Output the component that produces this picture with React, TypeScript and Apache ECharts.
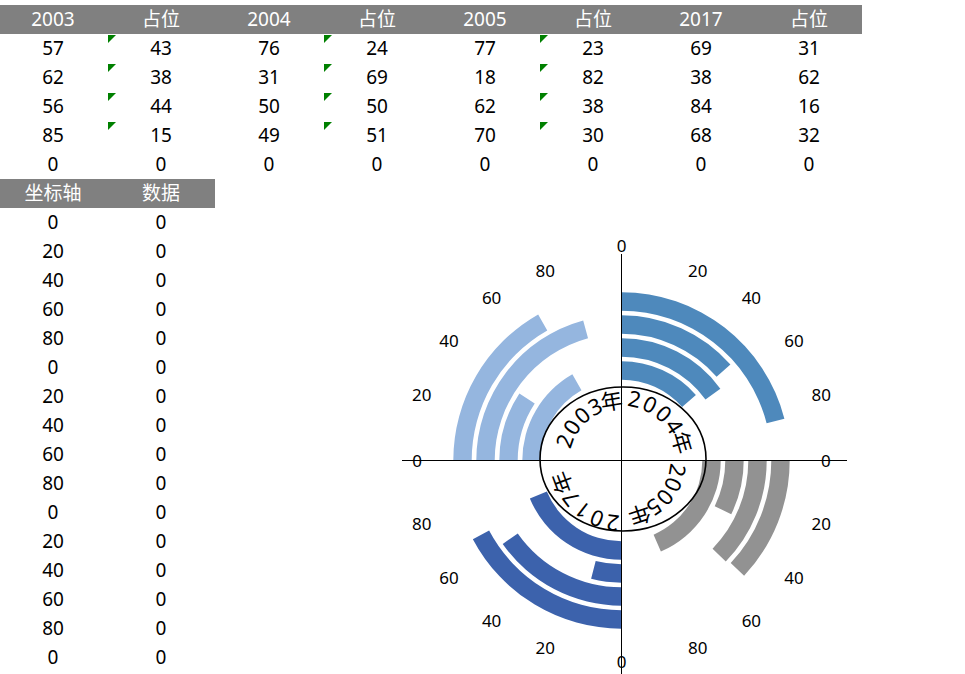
import React, { useEffect, useRef } from 'react';
import * as echarts from 'echarts';

// ---- table data ----
const tableHeaders = ['2003', '占位', '2004', '占位', '2005', '占位', '2017', '占位'];
const col2003 = [57, 62, 56, 85, 0];
const pad2003 = [43, 38, 44, 15, 0];
const col2004 = [76, 31, 50, 49, 0];
const pad2004 = [24, 69, 50, 51, 0];
const col2005 = [77, 18, 62, 70, 0];
const pad2005 = [23, 82, 38, 30, 0];
const col2017 = [69, 38, 84, 68, 0];
const pad2017 = [31, 62, 16, 32, 0];
const tableCols = [col2003, pad2003, col2004, pad2004, col2005, pad2005, col2017, pad2017];
const flaggedCols = [1, 3, 5];
const flaggedRowCount = 4;

const axisHeaders = ['坐标轴', '数据'];
const axisCol = [0, 20, 40, 60, 80, 0, 20, 40, 60, 80, 0, 20, 40, 60, 80, 0];
const dataCol = [0, 0, 0, 0, 0, 0, 0, 0, 0, 0, 0, 0, 0, 0, 0, 0];

// ---- chart data (rings inner -> outer) ----
const rings = ['环1', '环2', '环3', '环4'];
const years = ['2003', '2004', '2005', '2017'];
const bar2003 = [67, 37, 83, 67];
const bar2004 = [54, 60, 54, 84];
const bar2005 = [74, 29, 49, 48];
const bar2017 = [75, 16, 61, 69];
const centerLabels = ['2003年', '2004年', '2005年', '2017年'];

const barSets = [bar2003, bar2004, bar2005, bar2017];
const colors = ['#95B6DF', '#4E89BC', '#929292', '#3C62AC'];
const FONT = "'Noto Sans', 'Noto Sans CJK SC', sans-serif";

const CX = 621.5;
const CY = 460.5;

export default function App() {
  const ref = useRef<HTMLDivElement>(null);

  useEffect(() => {
    if (!ref.current) return;
    const chart = echarts.init(ref.current, undefined, { renderer: 'svg' });

    const series: any[] = [];
    barSets.forEach((vals, i) => {
      series.push({
        type: 'bar',
        coordinateSystem: 'polar',
        stack: 'all',
        name: years[i],
        data: vals,
        barCategoryGap: '20%',
        itemStyle: { color: colors[i] },
        silent: true,
      });
      series.push({
        type: 'bar',
        coordinateSystem: 'polar',
        stack: 'all',
        name: '占位' + years[i],
        data: vals.map((v) => 100 - v),
        barCategoryGap: '20%',
        itemStyle: { color: 'rgba(0,0,0,0)' },
        silent: true,
      });
    });

    // curved labels in the centre
    const startOffsets = [19, 12, 10, 8];
    const charSteps = [0, 15, 30, 45, 61.5];
    const textRadius = [61, 64, 58, 64];
    const quadrantStart = [270, 0, 90, 180];
    const textEls: any[] = [];
    centerLabels.forEach((label, q) => {
      Array.from(label).forEach((ch, k) => {
        const phi = quadrantStart[q] + startOffsets[q] + charSteps[k];
        const rad = (phi * Math.PI) / 180;
        const r = textRadius[q];
        textEls.push({
          type: 'text',
          x: CX + r * Math.sin(rad),
          y: CY - r * Math.cos(rad),
          rotation: -rad,
          z: 20,
          style: {
            text: ch,
            fill: '#000',
            fontSize: 22,
            fontFamily: FONT,
            textAlign: 'center',
            textVerticalAlign: 'middle',
          },
        });
      });
    });

    const baseStyle = { fontSize: 17, fontFamily: FONT, color: '#000' };
    const labelStyle = { ...baseStyle, lineHeight: 14 };
    const lowStyle = { ...baseStyle, lineHeight: 8 };

    chart.setOption({
      animation: false,
      polar: { center: [CX, CY], radius: [78.5, 170.5] },
      radiusAxis: {
        type: 'category',
        data: rings,
        axisLine: { show: false },
        axisTick: { show: false },
        axisLabel: { show: false },
        splitLine: { show: false },
      },
      angleAxis: {
        type: 'value',
        min: 0,
        max: 400,
        interval: 20,
        startAngle: 180,
        clockwise: true,
        axisLine: { show: false },
        axisTick: { show: false },
        splitLine: { show: false },
        axisLabel: {
          margin: 22,
          ...baseStyle,
          formatter: (v: number) => {
            if (v >= 400) return '';
            const t = String(v % 100);
            if (v === 100) return '{t|0}';
            if (v === 300) return '{b|0}';
            if (v === 0) return '{L|0}';
            if (v === 200) return '{R|0}';
            if (v > 0 && v < 100) return '{L|' + t + '}';
            if (v > 100 && v < 200) return '{R|' + t + '}';
            if (v > 200 && v < 300) return '{RB|' + t + '}';
            return '{LB|' + t + '}';
          },
          rich: {
            L: { ...labelStyle, padding: [0, 7, 0, 0] },
            R: { ...labelStyle, padding: [0, 0, 0, 7] },
            LB: { ...lowStyle, padding: [0, 7, 0, 0] },
            RB: { ...lowStyle, padding: [0, 0, 0, 7] },
            t: { ...baseStyle, padding: [0, 0, 14, 0] },
            b: { ...baseStyle, lineHeight: 14, padding: [2, 0, 0, 0] },
          },
        },
      },
      series,
      graphic: [
        {
          type: 'line',
          z: 10,
          shape: { x1: 402, y1: CY, x2: 847, y2: CY },
          style: { stroke: '#000', lineWidth: 1 },
        },
        {
          type: 'line',
          z: 10,
          shape: { x1: CX, y1: 254, x2: CX, y2: 674 },
          style: { stroke: '#000', lineWidth: 1 },
        },
        {
          type: 'ellipse',
          z: 10,
          shape: { cx: 623, cy: 459, rx: 83, ry: 72 },
          style: { fill: 'none', stroke: '#000', lineWidth: 1.6 },
        },
        ...textEls,
      ],
    });

    return () => chart.dispose();
  }, []);

  const cell = (left: number, top: number, text: string | number, color: string, key: string) => (
    <div
      key={key}
      style={{
        position: 'absolute',
        left,
        top,
        width: 108,
        height: 29,
        lineHeight: '29px',
        textAlign: 'center',
        color,
        fontSize: 19,
      }}
    >
      {text}
    </div>
  );

  return (
    <div
      style={{
        position: 'fixed',
        left: 0,
        top: 0,
        width: 965,
        height: 674,
        background: '#fff',
        overflow: 'hidden',
        fontFamily: FONT,
      }}
    >
      <div style={{ position: 'absolute', left: 0, top: 5, width: 862, height: 29, background: '#808080' }} />
      {tableHeaders.map((h, i) => cell(i * 108 - 1, 5, h, '#fff', 'h' + i))}
      {tableCols.map((col, c) => col.map((v, r) => cell(c * 108 - 1, 34 + r * 29, v, '#000', `c${c}-${r}`)))}
      {flaggedCols.map((c) =>
        Array.from({ length: flaggedRowCount }).map((_, r) => (
          <div
            key={`f${c}-${r}`}
            style={{
              position: 'absolute',
              left: c * 108,
              top: 34 + r * 29 + 1,
              width: 0,
              height: 0,
              borderTop: '8px solid #008000',
              borderRight: '8px solid transparent',
            }}
          />
        ))
      )}
      <div style={{ position: 'absolute', left: 0, top: 179, width: 215, height: 29, background: '#808080' }} />
      {axisHeaders.map((h, i) => cell(i * 108 - 1, 179, h, '#fff', 'ah' + i))}
      {axisCol.map((v, r) => cell(-1, 208 + r * 29, v, '#000', 'ax' + r))}
      {dataCol.map((v, r) => cell(107, 208 + r * 29, v, '#000', 'dc' + r))}
      <div ref={ref} style={{ position: 'absolute', left: 0, top: 0, width: 965, height: 674 }} />
    </div>
  );
}
